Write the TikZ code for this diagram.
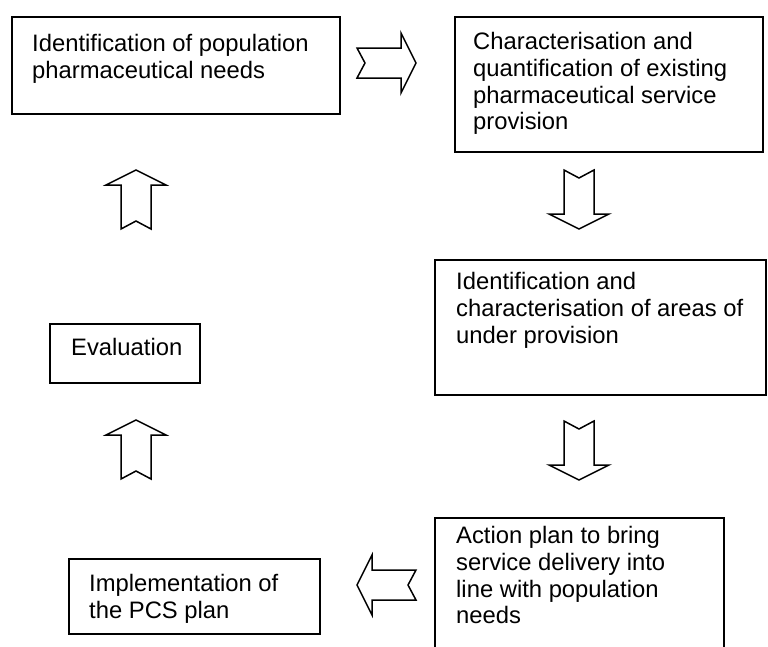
\documentclass[tikz,border=0pt]{standalone}
\usepackage{fontspec}
\setmainfont{Liberation Sans}
\tikzset{
	box/.style={draw, line width=1.5pt, anchor=north west, inner sep=0pt},
	txt/.style={anchor=north west, align=left, inner sep=0pt, font=\fontsize{23.8}{26.8}\selectfont},
	pics/notched/.style={code={
		\draw[line width=1.5pt, line join=miter, fill=white]
			(0,-15) -- (44,-15) -- (44,-30) -- (59,0) -- (44,30) -- (44,15) -- (0,15) -- (8,0) -- cycle;
	}}
}
\begin{document}
\begin{tikzpicture}[x=1pt,y=-1pt]
		\clip (0,0) rectangle (768,646);
		\fill[white] (0,0) rectangle (768,646);
		% boxes of the planning cycle
		\node[box, minimum width=328pt, minimum height=97pt] (needs) at (11,16) {};
		\node[box, minimum width=308pt, minimum height=135pt] (charact) at (454,16) {};
		\node[box, minimum width=331pt, minimum height=135pt] (areas) at (434,259) {};
		\node[box, minimum width=289pt, minimum height=150pt] (action) at (434,517) {};
		\node[box, minimum width=251pt, minimum height=75pt] (impl) at (68,558) {};
		\node[box, minimum width=150pt, minimum height=59pt] (eval) at (49,323) {};
		% texts
		\node[txt] (needs-txt) at ([shift={(21,18)}]needs.north west) {Identification of population\\pharmaceutical needs};
		\node[txt] (charact-txt) at ([shift={(19,16)}]charact.north west) {Characterisation and\\quantification of existing\\pharmaceutical service\\provision};
		\node[txt] (areas-txt) at ([shift={(22,13)}]areas.north west) {Identification and\\characterisation of areas of\\under provision};
		\node[txt] (action-txt) at ([shift={(22,9)}]action.north west) {Action plan to bring\\service delivery into\\line with population\\needs};
		\node[txt] (impl-txt) at ([shift={(21,16)}]impl.north west) {Implementation of\\the PCS plan};
		\node[txt] (eval-txt) at ([shift={(22,15)}]eval.north west) {Evaluation};
		% block arrows
		\pic at (357,63) {notched};
		\pic[rotate=-90] at (579,170) {notched};
		\pic[rotate=-90] at (579,421) {notched};
		\pic[rotate=180] at (416,585) {notched};
		\pic[rotate=90] at (136,479) {notched};
		\pic[rotate=90] at (136,229) {notched};
	\end{tikzpicture}
\end{document}
